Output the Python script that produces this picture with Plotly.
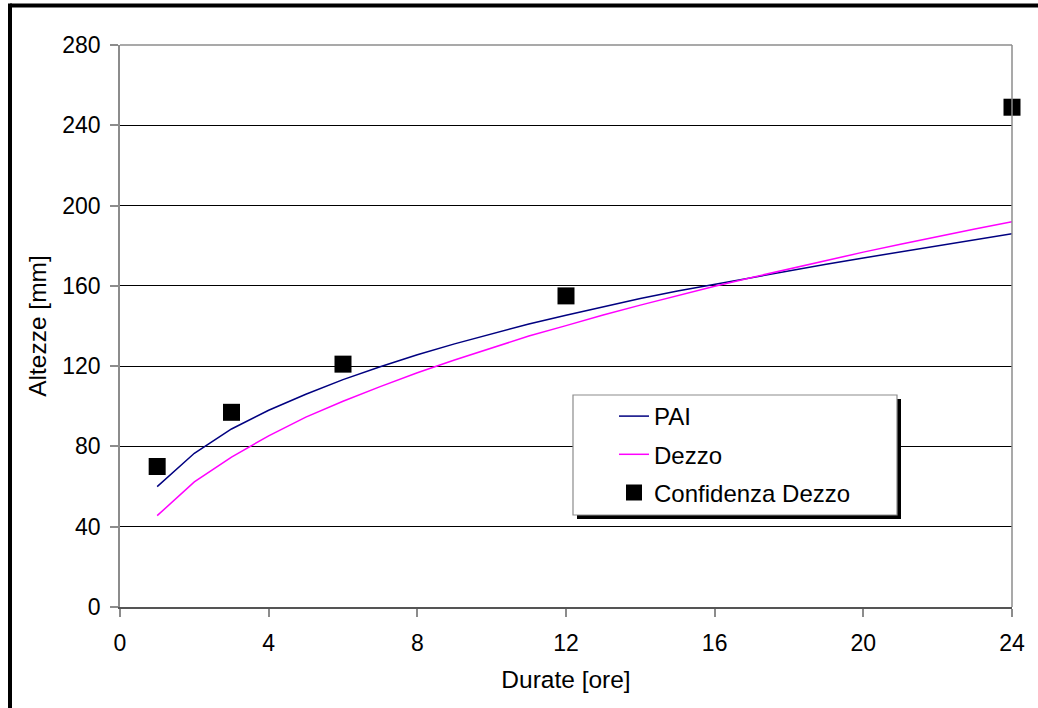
import plotly.graph_objects as go

# Durations (hours) and rainfall depths (mm)
hours = list(range(1, 25))
pai = [60.0, 76.6, 88.7, 98.0, 106.0, 113.3, 119.7, 125.7, 131.1, 136.2,
       141.0, 145.4, 149.7, 153.7, 157.4, 160.8, 164.2, 167.6, 170.8,
       173.9, 177.0, 180.1, 183.1, 186.0]
dezzo = [45.5, 62.3, 74.7, 85.3, 94.6, 102.5, 109.8, 116.7, 123.1, 129.2,
         135.0, 140.2, 145.5, 150.4, 155.2, 159.8, 164.2, 168.5, 172.7,
         176.8, 180.7, 184.6, 188.3, 192.0]
conf_hours = [1, 3, 6, 12, 24]
conf_dezzo = [70, 97, 121, 155, 249]

x_ticks = [0, 4, 8, 12, 16, 20, 24]
y_ticks = [0, 40, 80, 120, 160, 200, 240, 280]

FONT = "Liberation Sans, Arial, sans-serif"

# pixel layout of the plotting area
L, R, T, B = 120, 1012, 45, 607
W, H = 1038, 708
pw, ph = R - L, B - T


def px(xp):
    return (xp - L) / pw


def py(yp):
    return (B - yp) / ph


fig = go.Figure()
fig.add_trace(go.Scatter(x=hours, y=pai, mode="lines", name="PAI",
                         line=dict(color="#000080", width=1.5),
                         legendgroup="a"))
fig.add_trace(go.Scatter(x=hours, y=dezzo, mode="lines", name="Dezzo",
                         line=dict(color="#FF00FF", width=1.5),
                         legendgroup="b"))
fig.add_trace(go.Scatter(x=conf_hours, y=conf_dezzo, mode="markers",
                         name="Confidenza Dezzo",
                         marker=dict(symbol="square", size=17, color="black"),
                         cliponaxis=False, legendgroup="c"))

shapes = [
    # outer frame (left and top edges)
    dict(type="line", xref="paper", yref="paper", x0=px(10), x1=px(W + 20),
         y0=py(5.5), y1=py(5.5), line=dict(color="black", width=4)),
    dict(type="line", xref="paper", yref="paper", x0=px(10), x1=px(10),
         y0=py(3.5), y1=py(H + 20), line=dict(color="black", width=4)),
    # plot area top / right border
    dict(type="line", xref="paper", yref="paper", x0=0, x1=1, y0=1, y1=1,
         line=dict(color="#8c8c8c", width=1.5)),
    dict(type="line", xref="paper", yref="paper", x0=1, x1=1, y0=0, y1=1,
         line=dict(color="#8c8c8c", width=1.5)),
    # legend shadow and box
    dict(type="rect", xref="paper", yref="paper", x0=px(577), x1=px(901),
         y0=py(519), y1=py(399), fillcolor="black", line=dict(width=0),
         layer="above"),
    dict(type="rect", xref="paper", yref="paper", x0=px(573), x1=px(897),
         y0=py(515), y1=py(395), fillcolor="white",
         line=dict(color="#8c8c8c", width=1.2), layer="above"),
]

fig.update_layout(
    width=W, height=H,
    margin=dict(l=L, r=W - R, t=T, b=H - B),
    paper_bgcolor="white", plot_bgcolor="white",
    font=dict(family=FONT, size=23, color="black"),
    showlegend=True,
    legend=dict(x=px(614), y=py(394), xanchor="left", yanchor="top",
                bgcolor="rgba(0,0,0,0)", borderwidth=0,
                tracegroupgap=4, font=dict(size=24)),
    shapes=shapes,
    xaxis=dict(range=[0, 24], tickvals=x_ticks, showgrid=False,
               zeroline=False, showline=True, linecolor="#555555",
               linewidth=1.5, ticks="outside", ticklen=8, tickwidth=1.5,
               tickcolor="#8c8c8c", ticklabelstandoff=7,
               tickfont=dict(size=23),
               title=dict(text="Durate [ore]", standoff=16,
                          font=dict(size=24.5))),
    yaxis=dict(range=[0, 280], tickvals=y_ticks, showgrid=True,
               gridcolor="black", gridwidth=1, zeroline=False,
               showline=True, linecolor="#8c8c8c", linewidth=1.5,
               ticks="outside", ticklen=8, tickwidth=1.5,
               tickcolor="#8c8c8c", ticklabelstandoff=5,
               tickfont=dict(size=23),
               title=dict(text="Altezze [mm]", standoff=9,
                          font=dict(size=24.5))),
)

fig.write_html("out.html")
